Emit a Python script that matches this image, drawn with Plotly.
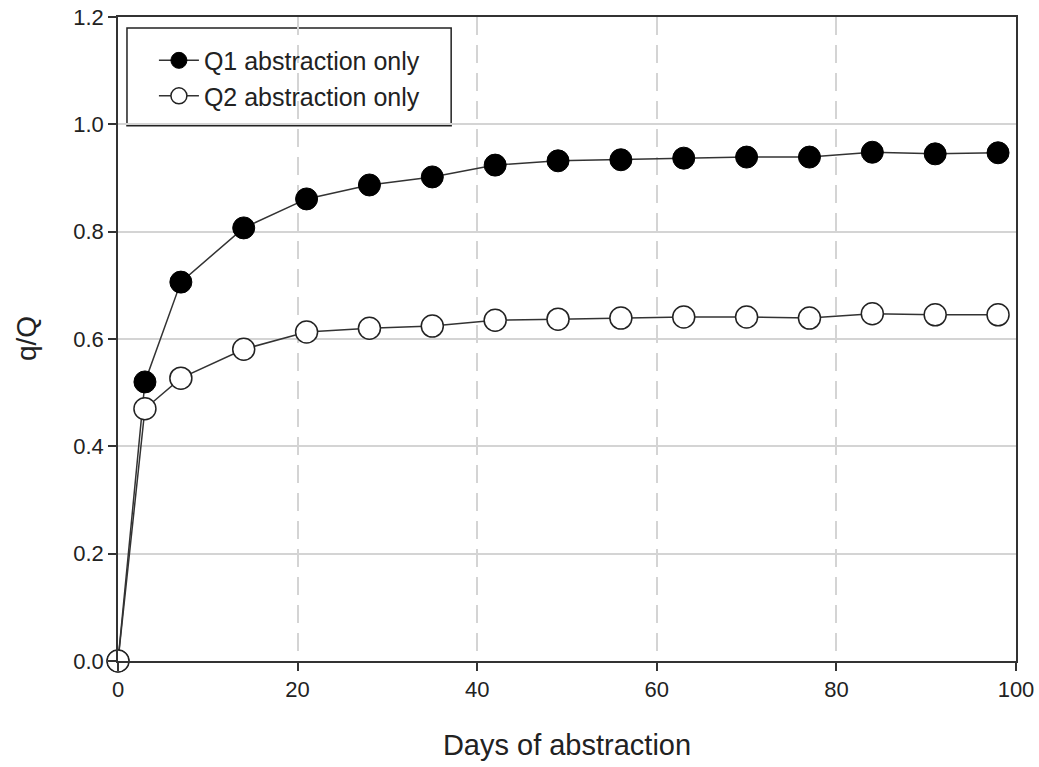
import plotly.graph_objects as go

days = [0, 3, 7, 14, 21, 28, 35, 42, 49, 56, 63, 70, 77, 84, 91, 98]
q1 = [0.0, 0.52, 0.706, 0.807, 0.861, 0.887, 0.902, 0.924, 0.932, 0.934, 0.937, 0.939, 0.939, 0.948, 0.945, 0.947]
q2 = [0.0, 0.470, 0.527, 0.581, 0.613, 0.620, 0.624, 0.635, 0.637, 0.639, 0.641, 0.641, 0.639, 0.647, 0.645, 0.645]

fig = go.Figure()
fig.add_trace(go.Scatter(
    x=days, y=q1, mode="lines+markers", name="Q1 abstraction only",
    line=dict(color="#333333", width=1.5),
    marker=dict(size=22, color="black", line=dict(color="black", width=1)),
    cliponaxis=False,
))
fig.add_trace(go.Scatter(
    x=days, y=q2, mode="lines+markers", name="Q2 abstraction only",
    line=dict(color="#333333", width=1.5),
    marker=dict(size=22, color="white", line=dict(color="#222222", width=1.5)),
    cliponaxis=False,
))

font = "Liberation Sans, Arial, sans-serif"
fig.update_layout(
    width=1039, height=767,
    margin=dict(l=118, r=23, t=17, b=106),
    paper_bgcolor="white", plot_bgcolor="white",
    font=dict(family=font, size=22, color="#222222"),
    showlegend=True,
    legend=dict(
        x=0.04, y=0.968, xanchor="left", yanchor="top",
        bgcolor="rgba(0,0,0,0)", borderwidth=0,
        font=dict(size=25, family=font, color="#222222"),
        itemwidth=40, tracegroupgap=0,
    ),
    shapes=[dict(
        type="rect", xref="paper", yref="paper",
        x0=0.010, x1=0.371, y0=0.831, y1=0.983,
        line=dict(color="#222222", width=1.5), fillcolor="white", layer="between",
    )],
    annotations=[dict(
        text="q/Q", textangle=-90, xref="paper", yref="paper",
        x=-0.1024, y=0.5, xanchor="center", yanchor="middle",
        showarrow=False, font=dict(size=28, family=font, color="#222222"),
    )],
)
fig.update_xaxes(
    range=[0, 100], tickvals=[0, 20, 40, 60, 80, 100],
    ticks="outside", ticklen=8, tickwidth=1.5, tickcolor="#333333",
    showline=True, linecolor="#333333", linewidth=1.5, mirror=True,
    showgrid=True, gridcolor="#d4d4d4", gridwidth=1.5, griddash="18px,10px",
    zeroline=False, ticklabeloverflow="allow", automargin=False,
    title=dict(text="Days of abstraction", font=dict(size=29, family=font), standoff=34),
    tickfont=dict(size=22),
)
fig.update_yaxes(
    range=[0, 1.2], tickvals=[0, 0.2, 0.4, 0.6, 0.8, 1.0, 1.2], tickformat=".1f",
    ticks="outside", ticklen=8, tickwidth=1.5, tickcolor="#333333",
    showline=True, linecolor="#333333", linewidth=1.5, mirror=True,
    showgrid=True, gridcolor="#d4d4d4", gridwidth=1.5,
    zeroline=False, ticklabeloverflow="allow", automargin=False,
    tickfont=dict(size=22),
)

fig.write_html("out.html", config={"displayModeBar": False},
               post_script="document.body.style.margin='0px';")
